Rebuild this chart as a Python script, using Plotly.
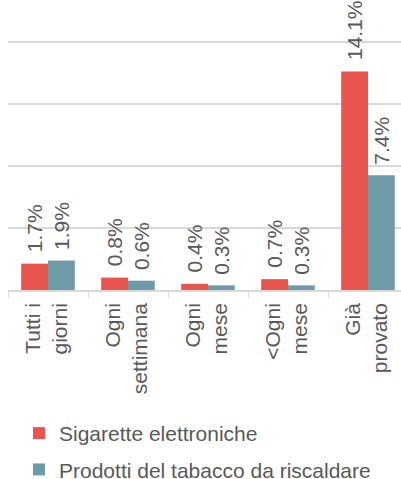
import plotly.graph_objects as go

categories = ["Tutti i<br>giorni", "Ogni<br>settimana", "Ogni<br>mese", "&lt;Ogni<br>mese", "Già<br>provato"]
sigarette = [1.7, 0.8, 0.4, 0.7, 14.1]
tabacco = [1.9, 0.6, 0.3, 0.3, 7.4]
series_names = ["Sigarette elettroniche", "Prodotti del tabacco da riscaldare"]
colors = ["#E8554F", "#6F9BA9"]

FONT = "Liberation Sans, Arial, sans-serif"
GRAY = "#595959"
LINE = "#D9D9D9"
FS = 21

bargap = 0.33
half = (1 - bargap) / 4  # offset of each bar centre from category centre

fig = go.Figure()
annotations = []
for k, (name, vals, col) in enumerate(zip(series_names, [sigarette, tabacco], colors)):
    fig.add_trace(go.Bar(
        x=categories, y=vals, name=name, legendgroup=name,
        marker=dict(color=col, line=dict(width=0)),
        cliponaxis=False,
    ))
    off = -half if k == 0 else half
    for i, v in enumerate(vals):
        annotations.append(dict(
            x=i + off, y=v, xref="x", yref="y",
            text=f"{v:.1f}%", showarrow=False, textangle=-90,
            xanchor="center", yanchor="bottom", yshift=9,
            font=dict(family=FONT, size=FS, color=GRAY),
        ))

plot_h = 290
px_per_unit = 15.5
fig.update_layout(
    width=401, height=479,
    margin=dict(l=8, r=0, t=0, b=479 - plot_h, autoexpand=False),
    paper_bgcolor="white", plot_bgcolor="white",
    barmode="group", bargap=bargap, bargroupgap=0,
    font=dict(family=FONT, size=FS, color=GRAY),
    showlegend=True,
    legend=dict(
        orientation="v", x=0.028, xanchor="left", y=-0.424, yanchor="top",
        font=dict(family=FONT, size=FS, color=GRAY),
        itemwidth=30, tracegroupgap=6, bgcolor="rgba(0,0,0,0)",
    ),
    annotations=annotations,
)
fig.update_xaxes(
    type="category",
    range=[-0.5, -0.5 + 393 / 80],
    showline=True, linecolor=LINE, linewidth=1.5,
    ticks="outside", ticklen=6, tickcolor=LINE, tickwidth=1,
    tickson="boundaries",
    tickangle=-90,
    ticklabelshift=-1, ticklabelstandoff=3,
    tickfont=dict(family=FONT, size=FS, color=GRAY),
    showgrid=False, fixedrange=True,
)
fig.update_yaxes(
    range=[0, plot_h / px_per_unit],
    dtick=4, tick0=0,
    showgrid=True, gridcolor=LINE, gridwidth=1.5,
    showticklabels=False, zeroline=False, showline=False,
    fixedrange=True,
)

fig.write_html(
    "out.html",
    config={"displayModeBar": False},
    post_script="document.body.style.margin='0';document.body.style.overflow='hidden';",
)
